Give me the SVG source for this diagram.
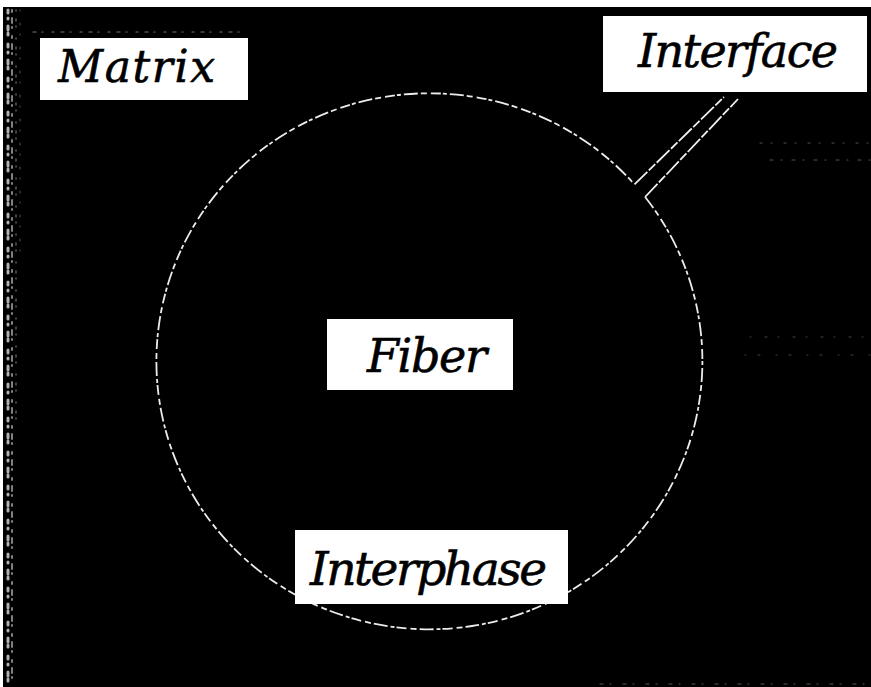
<svg xmlns="http://www.w3.org/2000/svg" width="871" height="687" viewBox="0 0 871 687">
  <style>
    .lbl { font-family: "DejaVu Serif", "Liberation Serif", serif; font-style: italic; fill: #000; stroke: #000; stroke-width: 0.6; }
    .box { fill: #fff; }
    .edge { fill: none; stroke: #ececec; stroke-width: 1.8; stroke-dasharray: 14 3 6 4 10 2 4 3; }
    .ptr { fill: none; stroke: #f0f0f0; stroke-width: 1.8; stroke-dasharray: 18 2 9 2; }
    .speck { fill: none; stroke-linecap: round; }
  </style>
  <rect x="0" y="0" width="871" height="687" fill="#000"/>
  <rect x="0" y="0" width="871" height="7" fill="#fff"/>
  <rect x="0" y="0" width="3" height="687" fill="#fff"/>

  <g id="texture">
    <line class="speck" x1="8" y1="10" x2="8" y2="685" stroke="#b0b0b0" stroke-width="3" stroke-dasharray="3 5 1 7 4 3 2 9"/>
    <line class="speck" x1="12" y1="10" x2="12" y2="685" stroke="#808080" stroke-width="2" stroke-dasharray="2 6 5 4 1 8"/>
    <line class="speck" x1="16" y1="10" x2="16" y2="420" stroke="#5a5a5a" stroke-width="1.5" stroke-dasharray="1 8 2 5 1 11"/>
    <line class="speck" x1="20" y1="10" x2="20" y2="260" stroke="#4a4a4a" stroke-width="1.2" stroke-dasharray="1 12 2 9"/>
    <line class="speck" x1="33" y1="32" x2="240" y2="32" stroke="#777" stroke-width="1.2" stroke-dasharray="3 6 1 9 2 7"/>
    <line class="speck" x1="760" y1="143" x2="871" y2="143" stroke="#555" stroke-width="1.2" stroke-dasharray="2 9 1 12"/>
    <line class="speck" x1="770" y1="160" x2="871" y2="160" stroke="#555" stroke-width="1.2" stroke-dasharray="3 8 1 10"/>
    <line class="speck" x1="750" y1="337" x2="871" y2="337" stroke="#444" stroke-width="1" stroke-dasharray="1 14 2 11"/>
    <line class="speck" x1="745" y1="355" x2="871" y2="355" stroke="#444" stroke-width="1" stroke-dasharray="1 12 2 16"/>
    <line class="speck" x1="600" y1="684" x2="871" y2="684" stroke="#555" stroke-width="1.2" stroke-dasharray="3 7 1 12"/>
  </g>

  <g id="connectors">
    <path id="fiber-edge" class="edge" d="M 645.1 197.0 A 273 268 0 1 1 634.5 184.4"/>
    <line class="ptr" x1="634.5" y1="184.4" x2="724" y2="97"/>
    <line class="ptr" x1="645.1" y1="197.0" x2="738" y2="99"/>
  </g>

  <g id="matrix">
    <rect class="box" x="40" y="38" width="208" height="62"/>
    <text class="lbl" x="58" y="82" font-size="44" textLength="157">Matrix</text>
  </g>

  <g id="interface">
    <rect class="box" x="603" y="16" width="264" height="76"/>
    <text class="lbl" x="638" y="67" font-size="46" textLength="200">Interface</text>
  </g>

  <g id="fiber">
    <rect class="box" x="327" y="319" width="186" height="71"/>
    <text class="lbl" x="367" y="372" font-size="46" textLength="120">Fiber</text>
  </g>

  <g id="interphase">
    <rect class="box" x="295" y="530" width="273" height="74"/>
    <text class="lbl" x="310" y="585" font-size="47" textLength="237">Interphase</text>
  </g>
</svg>
